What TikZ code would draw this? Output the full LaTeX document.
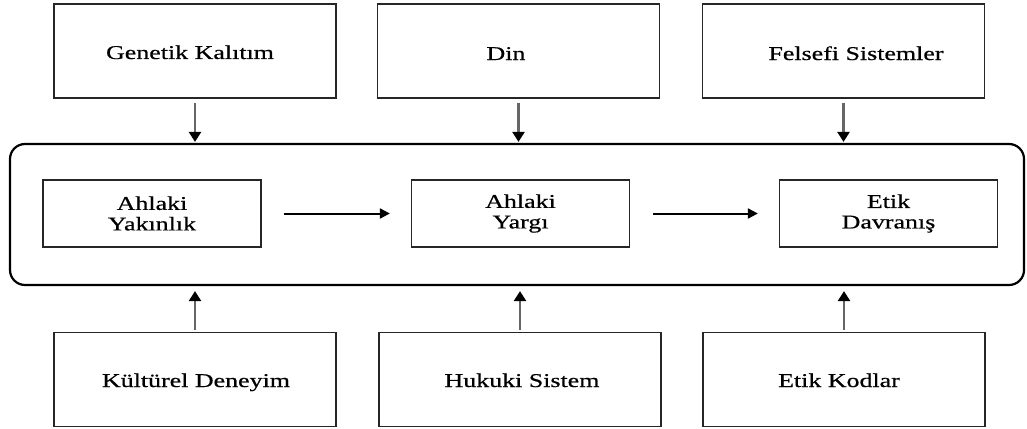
\documentclass[tikz,border=0pt]{standalone}
\usepackage{fontspec}
\setmainfont{Liberation Serif}[FakeStretch=1.33,FakeBold=0.6]
\usetikzlibrary{arrows.meta}
\begin{document}
\begin{tikzpicture}[x=1pt,y=-1pt,
  box/.style={draw=black!85, line width=1.3pt, minimum width=282pt, minimum height=94pt, inner sep=0pt},
  inbox/.style={draw=black!85, line width=1.3pt, minimum width=218pt, minimum height=67pt, inner sep=0pt,
    font=\fontsize{19.5pt}{20.5pt}\selectfont, align=center},
  txt/.style={font=\fontsize{19.5pt}{20.5pt}\selectfont, inner sep=0pt, anchor=base},
  vin/.style={draw=black!60, line width=2.4pt, -{Triangle[length=10pt,width=12pt,color=black]}},
  hin/.style={draw=black, line width=2pt, -{Triangle[length=10pt,width=10pt]}},
  frame/.style={draw=black, line width=2.2pt, rounded corners=15pt, minimum width=1014pt, minimum height=141pt, inner sep=0pt}]
\useasboundingbox (0,0) rectangle (1027,428);

% top boxes
\node[box] (gen) at (195,51) {};
\node[box] (din) at (518.5,51) {};
\node[box] (fel) at (843.5,51) {};
\node[txt] (gent) at (190,59) {Genetik Kalıtım};
\node[txt] (dint) at (506,60) {Din};
\node[txt] (felt) at (856,60) {Felsefi Sistemler};

% big frame
\node[frame] (big) at (517,214.5) {};

% inner boxes
\node[inbox] (yak) at (152,213.5) {Ahlaki\\Yakınlık};
\node[inbox] (yar) at (520.5,213.5) {Ahlaki\\Yargı};
\node[inbox] (dav) at (888.5,213.5) {Etik\\Davranış};

% bottom boxes
\node[box] (kul) at (195,379.5) {};
\node[box] (huk) at (520,379.5) {};
\node[box] (kod) at (844,379.5) {};
\node[txt] (kult) at (196,387) {Kültürel Deneyim};
\node[txt] (hukt) at (522,387) {Hukuki Sistem};
\node[txt] (kodt) at (839,387) {Etik Kodlar};

% top arrows
\draw[vin, shorten <=4pt, shorten >=1pt] (gen.south) -- (gen.south |- big.north);
\draw[vin, shorten <=4pt, shorten >=1pt] (din.south) -- (din.south |- big.north);
\draw[vin, shorten <=4pt, shorten >=1pt] (fel.south) -- (fel.south |- big.north);

% bottom arrows
\draw[vin, shorten <=2pt, shorten >=5pt] (kul.north) -- (kul.north |- big.south);
\draw[vin, shorten <=2pt, shorten >=5pt] (huk.north) -- (huk.north |- big.south);
\draw[vin, shorten <=2pt, shorten >=5pt] (kod.north) -- (kod.north |- big.south);

% horizontal arrows
\draw[hin, shorten <=22pt, shorten >=21pt] (yak.east) -- (yar.west);
\draw[hin, shorten <=23pt, shorten >=21pt] (yar.east) -- (dav.west);
\end{tikzpicture}
\end{document}
